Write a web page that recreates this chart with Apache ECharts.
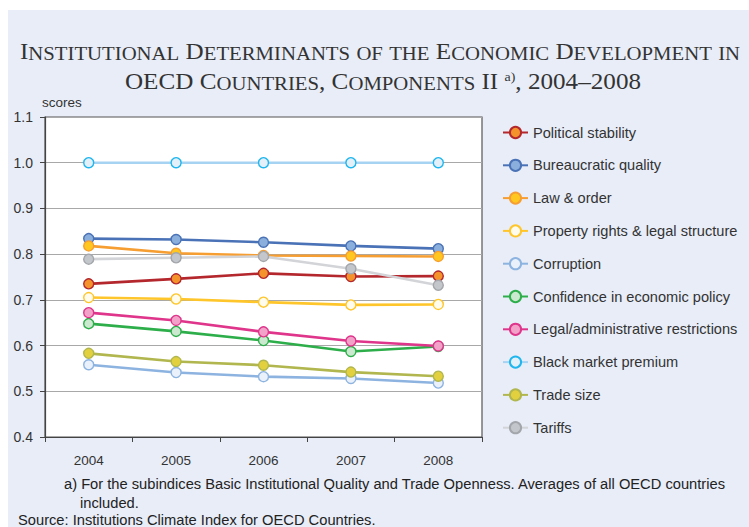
<!DOCTYPE html>
<html><head><meta charset="utf-8">
<script src="https://cdn.jsdelivr.net/npm/echarts@6/dist/echarts.min.js"></script>
<style>html,body{margin:0;padding:0;background:#fff}#c{width:749px;height:527px}</style>
</head><body><div id="c"></div>
<script>
const years = ['2004','2005','2006','2007','2008'];
const seriesNames = ['Political stability','Bureaucratic quality','Law & order','Property rights & legal structure','Corruption','Confidence in economic policy','Legal/administrative restrictions','Black market premium','Trade size','Tariffs'];
const politicalStability = [0.735,0.746,0.758,0.751,0.752];
const bureaucraticQuality = [0.834,0.832,0.826,0.818,0.812];
const lawOrder = [0.818,0.802,0.797,0.796,0.795];
const propertyRights = [0.705,0.702,0.695,0.689,0.690];
const corruption = [0.558,0.541,0.532,0.528,0.518];
const confidence = [0.648,0.631,0.611,0.587,0.598];
const legalAdmin = [0.672,0.655,0.630,0.610,0.599];
const blackMarket = [1.0,1.0,1.0,1.0,1.0];
const tradeSize = [0.583,0.565,0.557,0.542,0.533];
const tariffs = [0.789,0.792,0.795,0.768,0.732];
const yTicks = [0.4,0.5,0.6,0.7,0.8,0.9,1.0,1.1];

const values = [politicalStability,bureaucraticQuality,lawOrder,propertyRights,corruption,confidence,legalAdmin,blackMarket,tradeSize,tariffs];
const styles = [
  {line:'#B3272D', fill:'#F4922B', border:'#B3272D'},
  {line:'#4A72B6', fill:'#8BAFDD', border:'#4A72B6'},
  {line:'#F69E32', fill:'#FFC71F', border:'#F69E32'},
  {line:'#FFC62B', fill:'#FFFCEE', border:'#FFC62B'},
  {line:'#8DB3E0', fill:'#EAF1FB', border:'#8DB3E0'},
  {line:'#2DAE4A', fill:'#CBE9CF', border:'#2DAE4A'},
  {line:'#DF358B', fill:'#F2A2C9', border:'#DF358B'},
  {line:'#A7D3F3', fill:'#E3EFF9', border:'#1EB6EE'},
  {line:'#B1B74E', fill:'#E2D03F', border:'#B1B74E'},
  {line:'#D2D4D8', fill:'#C3C6CB', border:'#A3A6AA'}
];

// small-caps emulation: lowercase runs become smaller uppercase tokens
function sc(str){
  const parts = str.match(/[a-z]+|[^a-z]+/g) || [];
  return parts.map(p => /[a-z]/.test(p) ? '{s|'+p.toUpperCase()+'}' : '{b|'+p+'}').join('');
}
const titleLine1 = sc('Institutional Determinants of the Economic Development in');
const titleLine2 = sc('OECD Countries, Components II ') + '{sup|a)}' + sc(', 2004–2008');
const serif = '"Liberation Serif", "Times New Roman", serif';
const titleRich = {
  b:{fontSize:23.5, fontFamily:serif, fill:'#333', color:'#333', lineHeight:30, verticalAlign:'bottom'},
  s:{fontSize:19.4, fontFamily:serif, fill:'#333', color:'#333', lineHeight:30, verticalAlign:'bottom'},
  sup:{fontSize:13, fontFamily:serif, fill:'#333', color:'#333', lineHeight:30, verticalAlign:'bottom', padding:[0,0,10,0]}
};
const sans = '"Liberation Sans", Arial, sans-serif';

const chart = echarts.init(document.getElementById('c'), null, {renderer:'svg'});
const option = {
  backgroundColor:'#ffffff',
  animation:false,
  graphic:[
    {type:'rect', left:8, top:10, shape:{width:741, height:517}, style:{fill:'#E8EDF8'}, z:-10},
    {type:'text', x:380, y:48, scaleX:1.07, style:{text:titleLine1, rich:titleRich, align:'center', verticalAlign:'middle', fill:'#333'}},
    {type:'text', x:383, y:78, scaleX:1.07, style:{text:titleLine2, rich:titleRich, align:'center', verticalAlign:'middle', fill:'#333'}},
    {type:'text', left:64, top:476, style:{text:'a) For the subindices Basic Institutional Quality and Trade Openness. Averages of all OECD countries', font:'14.7px '+sans, fill:'#222'}},
    {type:'text', left:80, top:495, style:{text:'included.', font:'14.7px '+sans, fill:'#222'}},
    {type:'text', left:18, top:512, style:{text:'Source: Institutions Climate Index for OECD Countries.', font:'14.7px '+sans, fill:'#222'}}
  ],
  legend:{
    orient:'vertical', left:502, top:125, padding:0,
    itemWidth:25, itemHeight:14, itemGap:17.8,
    textStyle:{fontSize:14.6, color:'#333', fontFamily:sans},
    data:seriesNames
  },
  grid:{left:45, right:267, top:117, bottom:90, show:true, backgroundColor:'#ffffff', borderColor:'#555', borderWidth:1.2},
  xAxis:{
    type:'category', data:years, boundaryGap:true,
    axisLine:{lineStyle:{color:'#444', width:1.2}},
    axisTick:{show:true, length:5, lineStyle:{color:'#444'}},
    axisLabel:{color:'#333', fontSize:13.5, margin:16, fontFamily:sans},
    splitLine:{show:false}
  },
  yAxis:{
    type:'value', min:0.4, max:1.1, interval:0.1,
    name:'scores', nameLocation:'end', nameGap:8,
    nameTextStyle:{color:'#333', fontSize:13.5, align:'left', padding:[0,0,0,-3], fontFamily:sans},
    axisLine:{show:true, lineStyle:{color:'#444', width:1.2}},
    axisTick:{show:true, length:5, lineStyle:{color:'#444'}},
    axisLabel:{color:'#333', fontSize:14, margin:12, formatter:v=>v.toFixed(1), fontFamily:sans},
    splitLine:{show:true, lineStyle:{color:'#A8A8A8', width:1}}
  },
  series: seriesNames.map((n,i)=>({
    name:n, type:'line', data:values[i],
    symbol:'circle', symbolSize:10,
    lineStyle:{color:styles[i].line, width:2.6},
    itemStyle:{color:styles[i].fill, borderColor:styles[i].border, borderWidth:1.4},
    emphasis:{disabled:true}
  }))
};
chart.setOption(option);
</script></body></html>
